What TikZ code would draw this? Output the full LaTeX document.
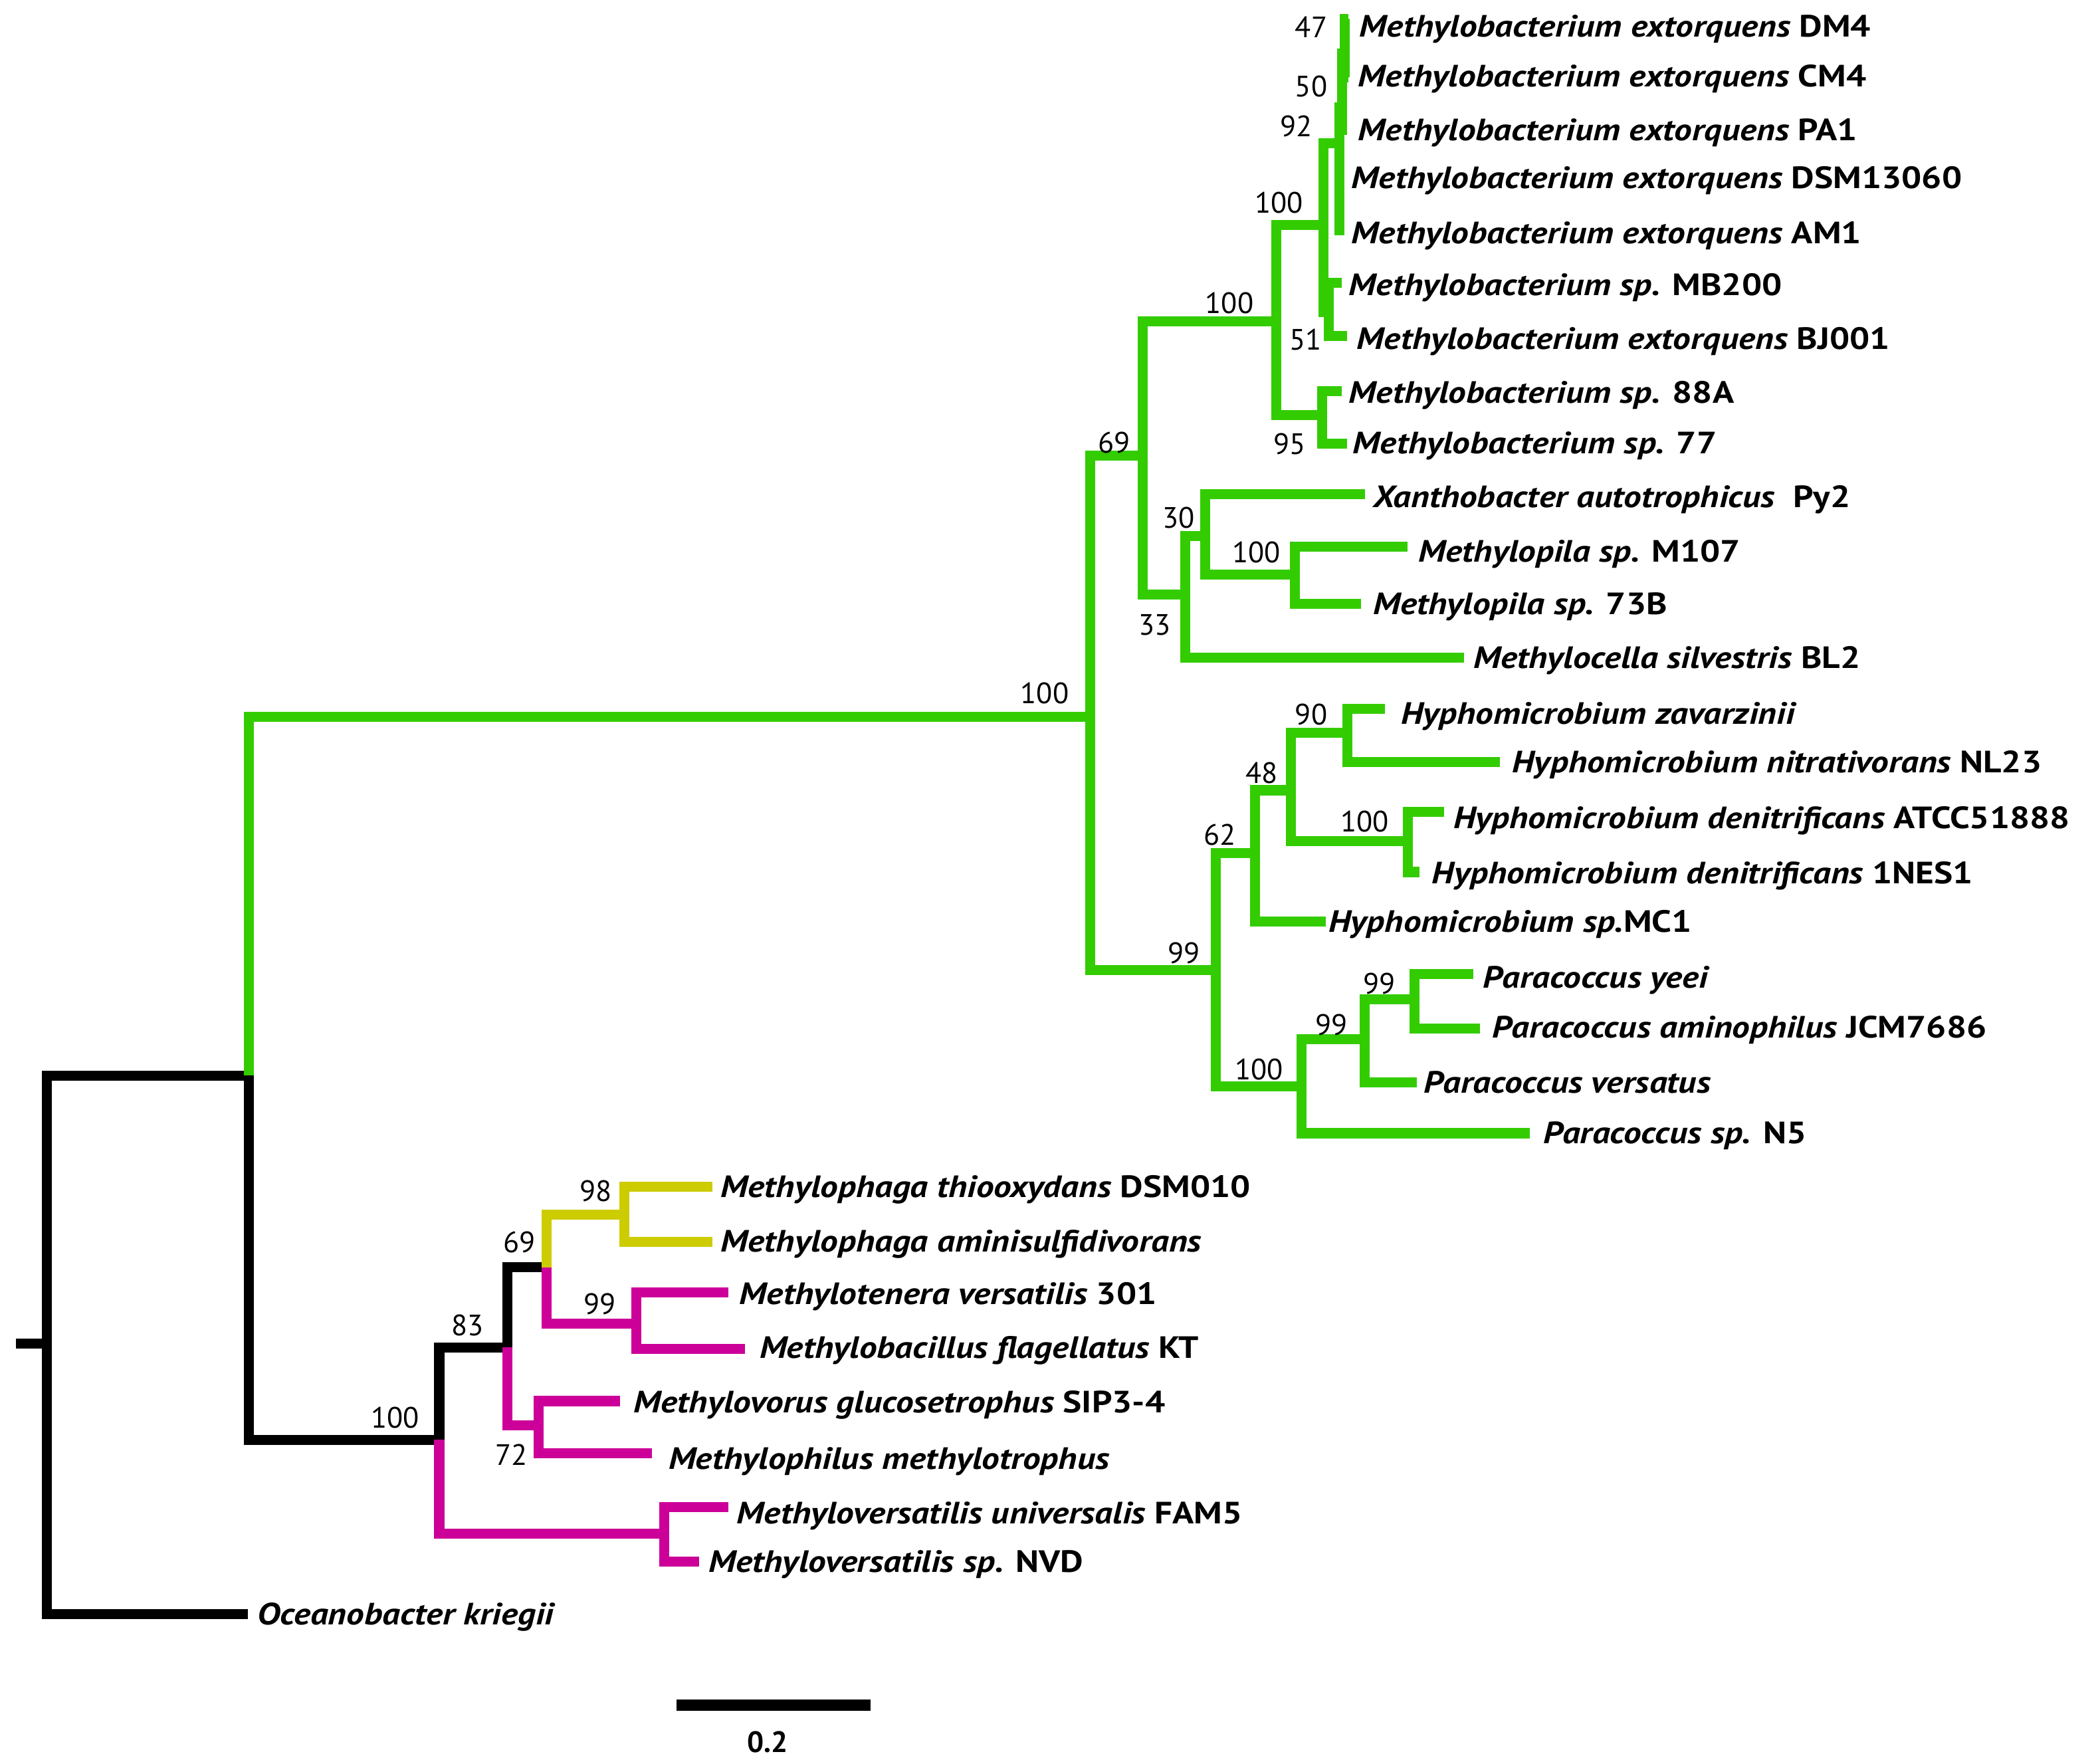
\documentclass[tikz,border=0pt]{standalone}
\usepackage{fontspec}
\setmainfont{PT Sans}
\newfontfamily\taxonfont[FakeStretch=1.15]{PT Sans}
\definecolor{cladegreen}{RGB}{51,204,0}
\definecolor{cladepink}{RGB}{204,0,153}
\definecolor{cladeyellow}{RGB}{204,204,0}
\tikzset{every picture/.append style={x=1pt, y=-1pt}}
\tikzset{
    branch/.style={line width=7.5pt},
    taxon/.style={anchor=west, inner sep=0pt, text height=15.5pt, text depth=0pt,
        font=\taxonfont\fontsize{23}{23}\selectfont\bfseries\itshape},
    boot/.style={inner sep=0pt, text height=16pt, text depth=0pt,
        font=\fontsize{22}{22}\selectfont}
}
\newcommand{\strain}[1]{\upshape #1}

\begin{document}
\begin{tikzpicture}
  \useasboundingbox (0,0) rectangle (1568,1312);
  % inner nodes
  \coordinate (n_stub) at (12,1003);
  \coordinate (n_root) at (35,1003);
  \coordinate (n_a) at (186,803);
  \coordinate (n_g) at (814,535);
  \coordinate (n_g69) at (853,340);
  \coordinate (n_m100) at (953,240);
  \coordinate (n_m100b) at (988,168);
  \coordinate (n_m92) at (1000,107);
  \coordinate (n_m50) at (1002,80);
  \coordinate (n_m47) at (1004,40);
  \coordinate (n_m51) at (992,233);
  \coordinate (n_m95) at (987,310);
  \coordinate (n_g33) at (885,444);
  \coordinate (n_g30) at (900,400);
  \coordinate (n_g100) at (967,429);
  \coordinate (n_g99) at (908,724);
  \coordinate (n_h62) at (937,637);
  \coordinate (n_h48) at (964,590);
  \coordinate (n_h90) at (1006,547);
  \coordinate (n_h100) at (1051,628);
  \coordinate (n_p100) at (972,811);
  \coordinate (n_p99a) at (1019,776);
  \coordinate (n_p99b) at (1056,746);
  \coordinate (n_b) at (328,1075);
  \coordinate (n_b83) at (379,1006);
  \coordinate (n_b69) at (408,946);
  \coordinate (n_y98) at (466,907);
  \coordinate (n_r99) at (475,988);
  \coordinate (n_r72) at (402,1064);
  \coordinate (n_rv) at (496,1145);

  % leaf tips
  \coordinate (l_dm4) at (1007,14);
  \coordinate (l_cm4) at (1007,58);
  \coordinate (l_pa1) at (1006,97);
  \coordinate (l_dsm) at (1004,133);
  \coordinate (l_am1) at (1004,172);
  \coordinate (l_mb200) at (1002,211);
  \coordinate (l_bj001) at (1006,251);
  \coordinate (l_88a) at (1002,292);
  \coordinate (l_77) at (1006,331);
  \coordinate (l_xan) at (1019,369);
  \coordinate (l_m107) at (1051,408);
  \coordinate (l_73b) at (1016,451);
  \coordinate (l_bl2) at (1093,491);
  \coordinate (l_zav) at (1034,529);
  \coordinate (l_nl23) at (1120,569);
  \coordinate (l_atcc) at (1078,606);
  \coordinate (l_1nes1) at (1060,651);
  \coordinate (l_mc1) at (990,688);
  \coordinate (l_yeei) at (1100,727);
  \coordinate (l_amino) at (1105,768);
  \coordinate (l_vers) at (1058,808);
  \coordinate (l_n5) at (1142,846);
  \coordinate (l_thio) at (532,886);
  \coordinate (l_amin) at (532,927);
  \coordinate (l_tene) at (544,965);
  \coordinate (l_flag) at (556,1007);
  \coordinate (l_gluc) at (463,1046);
  \coordinate (l_mphil) at (487,1085);
  \coordinate (l_fam5) at (544,1125);
  \coordinate (l_nvd) at (522,1166);
  \coordinate (l_ocean) at (185,1205);

  % black part
  \draw[branch] (n_stub) -- (n_root);
  \draw[branch] (n_root) |- (n_a);
  \draw[branch] (n_root) |- (l_ocean);
  \draw[branch] (n_a) |- (n_b);
  \draw[branch] (n_b) |- (n_b83);
  \draw[branch] (n_b83) |- (n_b69);

  % green part
  \draw[branch, cladegreen] (n_a) |- (n_g);
  \draw[branch, cladegreen] (n_g) |- (n_g69);
  \draw[branch, cladegreen] (n_g) |- (n_g99);
  \draw[branch, cladegreen] (n_g69) |- (n_m100);
  \draw[branch, cladegreen] (n_g69) |- (n_g33);
  \draw[branch, cladegreen] (n_m100) |- (n_m100b);
  \draw[branch, cladegreen] (n_m100) |- (n_m95);
  \draw[branch, cladegreen] (n_m100b) |- (n_m92);
  \draw[branch, cladegreen] (n_m100b) |- (n_m51);
  \draw[branch, cladegreen] (n_m92) |- (n_m50);
  \draw[branch, cladegreen] (n_m92) |- (l_dsm);
  \draw[branch, cladegreen] (n_m92) |- (l_am1);
  \draw[branch, cladegreen] (n_m50) |- (n_m47);
  \draw[branch, cladegreen] (n_m50) |- (l_pa1);
  \draw[branch, cladegreen] (n_m47) |- (l_dm4);
  \draw[branch, cladegreen] (n_m47) |- (l_cm4);
  \draw[branch, cladegreen] (n_m51) |- (l_mb200);
  \draw[branch, cladegreen] (n_m51) |- (l_bj001);
  \draw[branch, cladegreen] (n_m95) |- (l_88a);
  \draw[branch, cladegreen] (n_m95) |- (l_77);
  \draw[branch, cladegreen] (n_g33) |- (n_g30);
  \draw[branch, cladegreen] (n_g33) |- (l_bl2);
  \draw[branch, cladegreen] (n_g30) |- (l_xan);
  \draw[branch, cladegreen] (n_g30) |- (n_g100);
  \draw[branch, cladegreen] (n_g100) |- (l_m107);
  \draw[branch, cladegreen] (n_g100) |- (l_73b);
  \draw[branch, cladegreen] (n_g99) |- (n_h62);
  \draw[branch, cladegreen] (n_g99) |- (n_p100);
  \draw[branch, cladegreen] (n_h62) |- (n_h48);
  \draw[branch, cladegreen] (n_h62) |- (l_mc1);
  \draw[branch, cladegreen] (n_h48) |- (n_h90);
  \draw[branch, cladegreen] (n_h48) |- (n_h100);
  \draw[branch, cladegreen] (n_h90) |- (l_zav);
  \draw[branch, cladegreen] (n_h90) |- (l_nl23);
  \draw[branch, cladegreen] (n_h100) |- (l_atcc);
  \draw[branch, cladegreen] (n_h100) |- (l_1nes1);
  \draw[branch, cladegreen] (n_p100) |- (n_p99a);
  \draw[branch, cladegreen] (n_p100) |- (l_n5);
  \draw[branch, cladegreen] (n_p99a) |- (n_p99b);
  \draw[branch, cladegreen] (n_p99a) |- (l_vers);
  \draw[branch, cladegreen] (n_p99b) |- (l_yeei);
  \draw[branch, cladegreen] (n_p99b) |- (l_amino);

  % yellow and pink part
  \draw[branch, cladeyellow] (n_b69) |- (n_y98);
  \draw[branch, cladeyellow] (n_y98) |- (l_thio);
  \draw[branch, cladeyellow] (n_y98) |- (l_amin);
  \draw[branch, cladepink] (n_b69) |- (n_r99);
  \draw[branch, cladepink] (n_r99) |- (l_tene);
  \draw[branch, cladepink] (n_r99) |- (l_flag);
  \draw[branch, cladepink] (n_b83) |- (n_r72);
  \draw[branch, cladepink] (n_r72) |- (l_gluc);
  \draw[branch, cladepink] (n_r72) |- (l_mphil);
  \draw[branch, cladepink] (n_b) |- (n_rv);
  \draw[branch, cladepink] (n_rv) |- (l_fam5);
  \draw[branch, cladepink] (n_rv) |- (l_nvd);

  % taxa
  \node[taxon] (t_dm4) at (1015,20) {Methylobacterium extorquens \strain{DM4}};
  \node[taxon] (t_cm4) at (1014,57) {Methylobacterium extorquens \strain{CM4}};
  \node[taxon] (t_pa1) at (1014,97) {Methylobacterium extorquens \strain{PA1}};
  \node[taxon] (t_dsm) at (1009,133) {Methylobacterium extorquens \strain{DSM13060}};
  \node[taxon] (t_am1) at (1009,174) {Methylobacterium extorquens \strain{AM1}};
  \node[taxon] (t_mb200) at (1007,213) {Methylobacterium sp. \strain{MB200}};
  \node[taxon] (t_bj001) at (1013,253) {Methylobacterium extorquens \strain{BJ001}};
  \node[taxon] (t_88a) at (1007,293) {Methylobacterium sp. \strain{88A}};
  \node[taxon] (t_77) at (1010,331) {Methylobacterium sp. \strain{77}};
  \node[taxon] (t_xan) at (1025,371) {Xanthobacter autotrophicus\ \ \strain{Py2}};
  \node[taxon] (t_m107) at (1059,412) {Methylopila sp. \strain{M107}};
  \node[taxon] (t_73b) at (1025,451) {Methylopila sp. \strain{73B}};
  \node[taxon] (t_bl2) at (1100,491) {Methylocella silvestris \strain{BL2}};
  \node[taxon] (t_zav) at (1046,533) {Hyphomicrobium zavarzinii};
  \node[taxon] (t_nl23) at (1129,569) {Hyphomicrobium nitrativorans \strain{NL23}};
  \node[taxon] (t_atcc) at (1085,611) {Hyphomicrobium denitrificans \strain{ATCC51888}};
  \node[taxon] (t_1nes1) at (1069,652) {Hyphomicrobium denitrificans \strain{1NES1}};
  \node[taxon] (t_mc1) at (992,688) {Hyphomicrobium sp.\strain{MC1}};
  \node[taxon] (t_yeei) at (1107,730) {Paracoccus yeei};
  \node[taxon] (t_amino) at (1114,767) {Paracoccus aminophilus \strain{JCM7686}};
  \node[taxon] (t_vers) at (1063,808) {Paracoccus versatus};
  \node[taxon] (t_n5) at (1152,846) {Paracoccus sp. \strain{N5}};
  \node[taxon] (t_thio) at (538,886) {Methylophaga thiooxydans \strain{DSM010}};
  \node[taxon] (t_amin) at (538,927) {Methylophaga aminisulfidivorans};
  \node[taxon] (t_tene) at (552,966) {Methylotenera versatilis \strain{301}};
  \node[taxon] (t_flag) at (567,1006) {Methylobacillus flagellatus \strain{KT}};
  \node[taxon] (t_gluc) at (473,1047) {Methylovorus glucosetrophus \strain{SIP3-4}};
  \node[taxon] (t_mphil) at (499,1089) {Methylophilus methylotrophus};
  \node[taxon] (t_fam5) at (550,1130) {Methyloversatilis universalis \strain{FAM5}};
  \node[taxon] (t_nvd) at (529,1166) {Methyloversatilis sp. \strain{NVD}};
  \node[taxon] (t_ocean) at (192,1205) {Oceanobacter kriegii};

  % bootstrap values
  \node[boot] (b_g) at (780,517) {100};
  \node[boot] (b_g69) at (832,330) {69};
  \node[boot] (b_m100) at (918,226) {100};
  \node[boot] (b_m100b) at (955,151) {100};
  \node[boot] (b_m92) at (968,94) {92};
  \node[boot] (b_m50) at (979,64) {50};
  \node[boot] (b_m47) at (979,20) {47};
  \node[boot] (b_m51) at (975,253) {51};
  \node[boot] (b_m95) at (963,331) {95};
  \node[boot] (b_g30) at (880,386) {30};
  \node[boot] (b_g33) at (862,466) {33};
  \node[boot] (b_g100) at (938,412) {100};
  \node[boot] (b_h90) at (979,533) {90};
  \node[boot] (b_h48) at (942,577) {48};
  \node[boot] (b_h62) at (911,623) {62};
  \node[boot] (b_h100) at (1019,613) {100};
  \node[boot] (b_g99) at (884,711) {99};
  \node[boot] (b_p99b) at (1030,734) {99};
  \node[boot] (b_p99a) at (994,765) {99};
  \node[boot] (b_p100) at (940,798) {100};
  \node[boot] (b_y98) at (445,889) {98};
  \node[boot] (b_b69) at (388,927) {69};
  \node[boot] (b_r99) at (448,973) {99};
  \node[boot] (b_b83) at (349,989) {83};
  \node[boot] (b_b100) at (295,1058) {100};
  \node[boot] (b_r72) at (382,1086) {72};

  % scale bar
  \coordinate (s_left) at (505,1273);
  \coordinate (s_right) at (650,1273);
  \draw[line width=8pt] (s_left) -- (s_right);
  \node[boot, font=\fontsize{22}{22}\selectfont\bfseries] (s_label) at (573,1300) {0.2};
\end{tikzpicture}
\end{document}
